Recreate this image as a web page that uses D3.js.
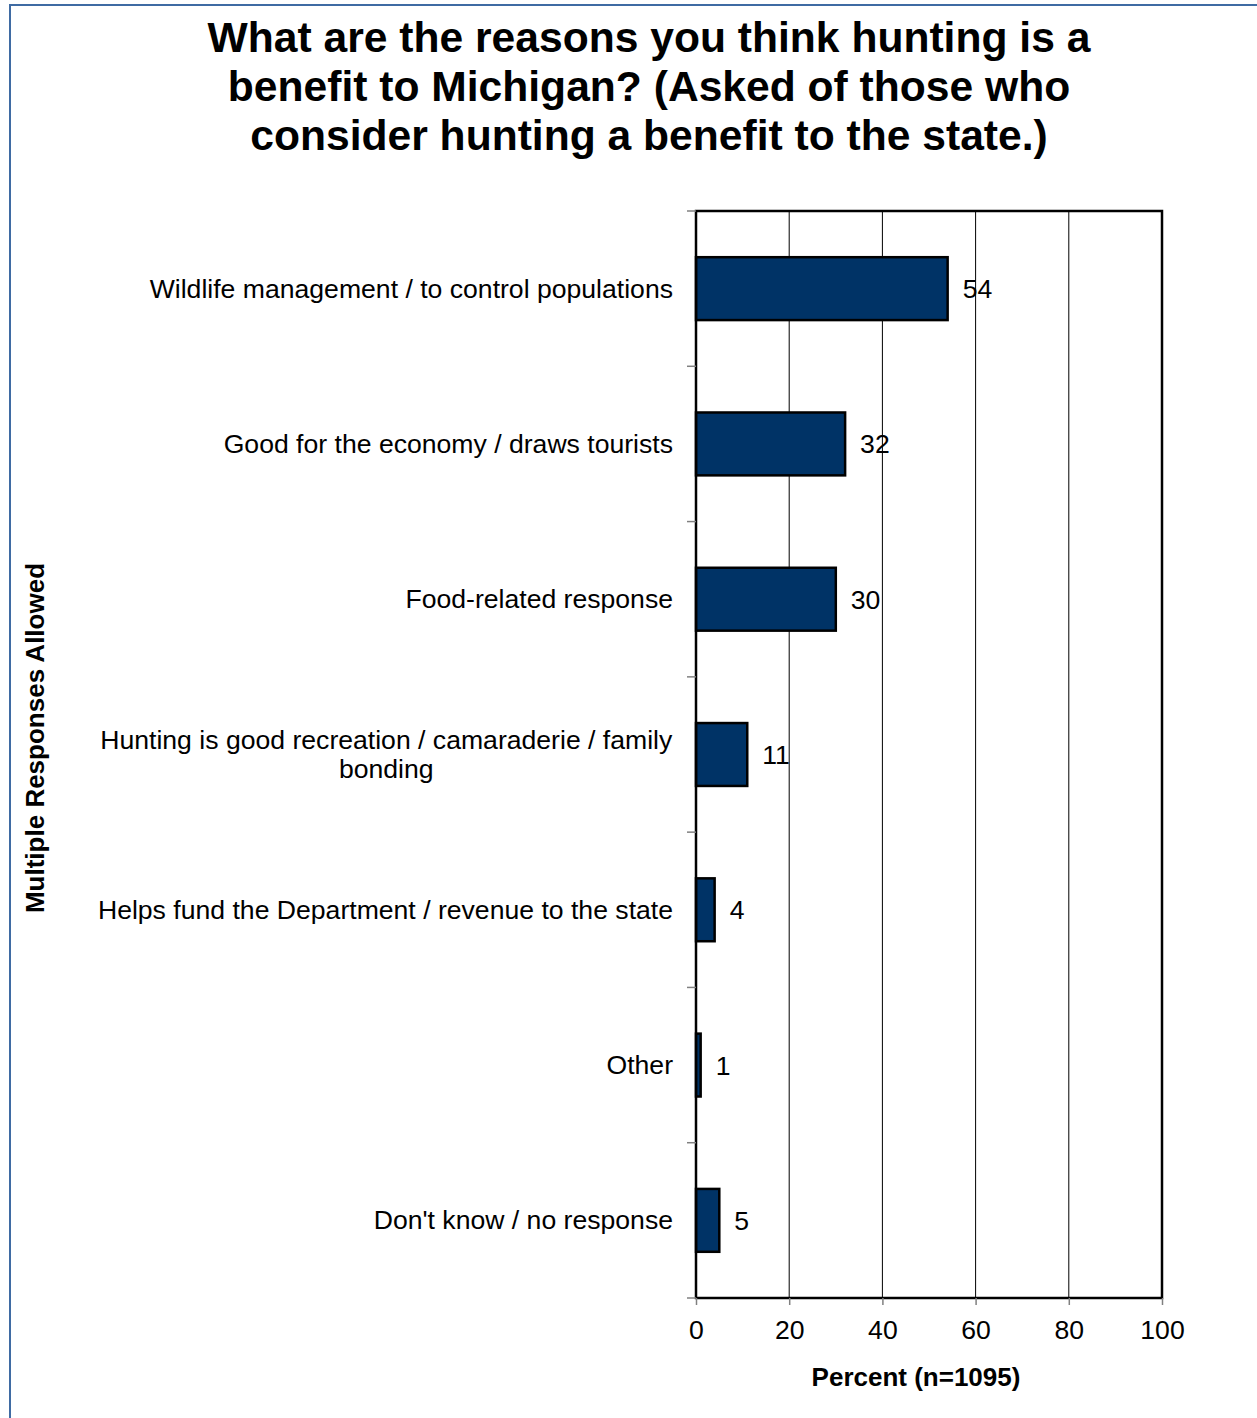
<!DOCTYPE html>
<html>
<head>
<meta charset="utf-8">
<script src="https://cdn.jsdelivr.net/npm/d3@7"></script>
<style>
  html, body { margin: 0; padding: 0; background: #fff; }
  svg { display: block; font-family: "Liberation Sans", Arial, sans-serif; }
</style>
</head>
<body>
<svg id="chart" width="1257" height="1418"></svg>
<script>
// Survey responses: reasons hunting is a benefit to Michigan
const categories = [
  ["Wildlife management / to control populations"],
  ["Good for the economy / draws tourists"],
  ["Food-related response"],
  ["Hunting is good recreation / camaraderie / family", "bonding"],
  ["Helps fund the Department / revenue to the state"],
  ["Other"],
  ["Don't know / no response"]
];
const values = [54, 32, 30, 11, 4, 1, 5];
const xTicks = [0, 20, 40, 60, 80, 100];
const titleLines = [
  "What are the reasons you think hunting is a",
  "benefit to Michigan? (Asked of those who",
  "consider hunting a benefit to the state.)"
];
const xTitle = "Percent (n=1095)";
const yTitle = "Multiple Responses Allowed";

const svg = d3.select("#chart");
const FONT = 26.6;

// Outer frame (only left and top edges fall inside the view)
svg.append("rect")
  .attr("x", 10).attr("y", 5)
  .attr("width", 1400).attr("height", 1500)
  .attr("fill", "none")
  .attr("stroke", "#3f6ba3")
  .attr("stroke-width", 2);

const plot = { left: 696, right: 1162, top: 211, bottom: 1298 };

const x = d3.scaleLinear().domain([0, 100]).range([plot.left, plot.right]);
const ids = categories.map((d, i) => i);
const y = d3.scaleBand().domain(ids).range([plot.top, plot.bottom])
  .paddingInner(0.595).paddingOuter(0.2975);

// Vertical gridlines
svg.append("g").selectAll("line")
  .data(xTicks.slice(1, -1))
  .join("line")
  .attr("x1", d => x(d)).attr("x2", d => x(d))
  .attr("y1", plot.top).attr("y2", plot.bottom)
  .attr("stroke", "#000").attr("stroke-width", 1);

// Bars
svg.append("g").selectAll("rect")
  .data(values)
  .join("rect")
  .attr("x", x(0))
  .attr("y", (d, i) => y(i))
  .attr("width", d => x(d) - x(0))
  .attr("height", y.bandwidth())
  .attr("fill", "#003366")
  .attr("stroke", "#000")
  .attr("stroke-width", 2.5);

// Plot frame
svg.append("rect")
  .attr("x", plot.left).attr("y", plot.top)
  .attr("width", plot.right - plot.left).attr("height", plot.bottom - plot.top)
  .attr("fill", "none").attr("stroke", "#000").attr("stroke-width", 2.5);

// Category boundary ticks on the left axis
const boundaries = d3.range(categories.length + 1).map(i =>
  plot.top + i * (plot.bottom - plot.top) / categories.length);
svg.append("g").selectAll("line")
  .data(boundaries)
  .join("line")
  .attr("x1", plot.left - 9).attr("x2", plot.left)
  .attr("y1", d => d).attr("y2", d => d)
  .attr("stroke", "#808080").attr("stroke-width", 1.5);

// Bottom axis
const xAxis = d3.axisBottom(x).tickValues(xTicks).tickSize(7).tickPadding(15);
const gx = svg.append("g")
  .attr("transform", `translate(0,${plot.bottom})`)
  .call(xAxis);
gx.select(".domain").remove();
gx.selectAll(".tick line").attr("stroke", "#808080").attr("stroke-width", 1.5);
gx.selectAll(".tick text")
  .attr("font-size", FONT).attr("fill", "#000")
  .attr("font-family", "Liberation Sans, Arial, sans-serif");

// Category labels, right-aligned; wrapped labels centred on their widest line
const labelG = svg.append("g");
categories.forEach((lines, i) => {
  const cy = y(i) + y.bandwidth() / 2;
  const lh = 29.5;
  const t = labelG.append("text")
    .attr("font-size", FONT)
    .attr("fill", "#000");
  lines.forEach((ln, k) => {
    const yy = cy + (k - (lines.length - 1) / 2) * lh + 9;
    t.append("tspan")
      .attr("x", lines.length > 1 ? 386 : 673)
      .attr("y", yy)
      .attr("text-anchor", lines.length > 1 ? "middle" : "end")
      .text(ln);
  });
  if (lines.length > 1) {
    const bb = t.node().getBBox();
    const shift = 673 - (bb.x + bb.width);
    t.attr("transform", `translate(${shift},0)`);
  }
});

// Value labels
svg.append("g").selectAll("text")
  .data(values)
  .join("text")
  .attr("x", d => x(d) + 15)
  .attr("y", (d, i) => y(i) + y.bandwidth() / 2 + 9.5)
  .attr("font-size", FONT)
  .attr("fill", "#000")
  .text(d => d);

// Title
svg.append("g").selectAll("text")
  .data(titleLines)
  .join("text")
  .attr("x", 649)
  .attr("y", (d, i) => 52 + i * 49)
  .attr("text-anchor", "middle")
  .attr("font-size", 42.6)
  .attr("font-weight", "bold")
  .attr("fill", "#000")
  .text(d => d);

// Axis titles
svg.append("text")
  .attr("x", 916)
  .attr("y", 1386)
  .attr("text-anchor", "middle")
  .attr("font-size", 26)
  .attr("font-weight", "bold")
  .text(xTitle);

svg.append("text")
  .attr("transform", "translate(44,738) rotate(-90)")
  .attr("text-anchor", "middle")
  .attr("font-size", 26)
  .attr("font-weight", "bold")
  .text(yTitle);
</script>
</body>
</html>
